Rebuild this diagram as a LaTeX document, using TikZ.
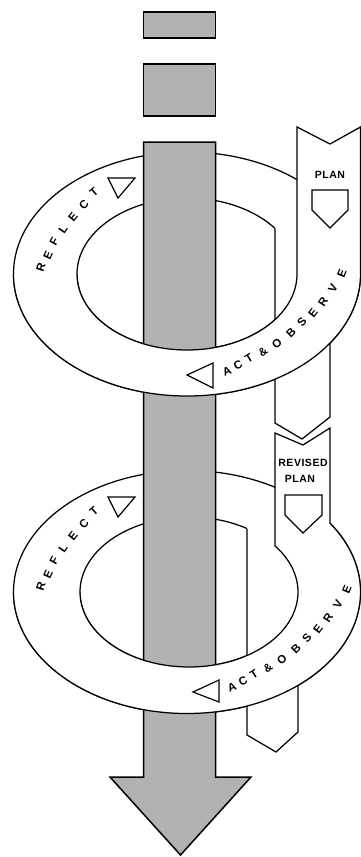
\documentclass[tikz,border=0pt]{standalone}
\usepackage{fontspec}
\newfontfamily\lbl{Liberation Sans}
\newfontfamily\lblsp{Liberation Sans}[LetterSpace=5]
\begin{document}
\begin{tikzpicture}[x=1pt,y=1pt,
  ln/.style={line width=1.25pt, line join=miter},
  bargrey/.style={fill=black!30, draw=black, line width=1.5pt, line join=miter},
  lettr/.style={font=\lbl\bfseries\fontsize{11.5}{11.5}\selectfont, inner sep=0pt},
  plantxt/.style={font=\lblsp\bfseries\fontsize{10.5}{11}\selectfont, inner sep=0pt, align=center},
  tri/.style={draw=black, line width=1.2pt, fill=white, line join=miter}
]
\useasboundingbox (0,0) rectangle (361,-857);

% ---------- ring 1 : back part ----------
\draw[ln] (187,-274) ellipse[x radius=173.5, y radius=122];
\draw[ln] (187,-274) ellipse[x radius=110, y radius=76];
\fill[white] (275,-200) -- (275,-423) -- (302,-439) -- (330,-417) -- (330,-200) -- cycle;
\draw[ln] ([shift={(187,-274)}]36.87:110 and 76) -- (275,-423) -- (302,-439) -- (330,-417) -- (330,-300);

% ---------- ring 2 : back part ----------
\draw[ln] (187,-592) ellipse[x radius=173.5, y radius=121.5];
\draw[ln] (189,-592) ellipse[x radius=109, y radius=75];
\fill[white] (247,-505) -- (247,-735) -- (276,-752) -- (298,-732) -- (298,-505) -- cycle;
\draw[ln] ([shift={(189,-592)}]57.85:109 and 75) -- (247,-735) -- (276,-752) -- (298,-732) -- (298,-650);

% ---------- grey bar ----------
\draw[bargrey] (143.5,-12) rectangle (215.5,-38);
\draw[bargrey] (143.5,-64) rectangle (215.5,-116);
\draw[bargrey] (143.5,-142) -- (215.5,-142) -- (215.5,-777) -- (251,-777) -- (180.5,-855) -- (110,-777) -- (143.5,-777) -- cycle;

% ---------- ring 1 : front part with PLAN ----------
\fill[white] (13.5,-274) arc[start angle=180, end angle=360, x radius=173.5, y radius=122]
  -- (360.5,-127) -- (330,-144) -- (297,-127) -- (297,-274)
  arc[start angle=0, end angle=-180, x radius=110, y radius=76] -- cycle;
\draw[ln] (13.5,-274) arc[start angle=180, end angle=360, x radius=173.5, y radius=122]
  -- (360.5,-127) -- (330,-144) -- (297,-127) -- (297,-274)
  arc[start angle=0, end angle=-180, x radius=110, y radius=76];

% ---------- ring 2 : front part with REVISED PLAN ----------
\fill[white] (13.5,-592) arc[start angle=180, end angle=394.5, x radius=173.5, y radius=121.5]
  -- (330,-428) -- (303,-445) -- (275,-433) -- ([shift={(189,-592)}]37.9:109 and 75)
  arc[start angle=37.9, end angle=-180, x radius=109, y radius=75] -- cycle;
\draw[ln] (13.5,-592) arc[start angle=180, end angle=394.5, x radius=173.5, y radius=121.5]
  -- (330,-428) -- (303,-445) -- (275,-433) -- ([shift={(189,-592)}]37.9:109 and 75)
  arc[start angle=37.9, end angle=-180, x radius=109, y radius=75];

% ---------- plan arrows (home-plate shapes) ----------
\draw[tri] (312,-190) -- (348,-190) -- (348,-210) -- (330,-228) -- (312,-210) -- cycle;
\draw[tri] (285,-495) -- (322,-495) -- (322,-515) -- (303,-533) -- (285,-515) -- cycle;
\node[plantxt] (plan1) at (330,-175) {PLAN};
\node[plantxt] (rev2) at (303,-463) {REVISED};
\node[plantxt] (plan2) at (300,-479) {PLAN};

% ---------- direction triangles ----------
\draw[tri] (108,-178) -- (135,-178) -- (118,-198) -- cycle;
\draw[tri] (187,-375) -- (213,-363) -- (213,-388) -- cycle;
\draw[tri] (108,-497) -- (135,-497) -- (118,-517) -- cycle;
\draw[tri] (193,-692) -- (219,-680) -- (219,-702) -- cycle;

% ---------- curved labels ----------
\foreach \dy/\k in {0/a,319/b}{
  \foreach \ch/\x/\y/\r [count=\i] in {R/41/267/72, E/48/255/66, F/54/242/61, L/63/229/56, E/73/217/51, C/84/205/46, T/94/192/41}{
    \node[lettr, rotate=\r] (refl\k\i) at (\x,-\y-\dy) {\ch};
  }
}
\foreach \dx/\dy/\k in {0/0/a,5/316/b}{
  \foreach \ch/\x/\y/\r [count=\i] in {A/227/371/22, C/238/365/27, T/249/358/32, \&/263/352/36, O/277/344/41, B/291/333/45, S/302/322/49, E/313/313/53, R/323/302/57, V/333/288/62, E/342/273/68}{
    \node[lettr, rotate=\r] (act\k\i) at (\x+\dx,-\y-\dy) {\ch};
  }
}
\end{tikzpicture}
\end{document}
